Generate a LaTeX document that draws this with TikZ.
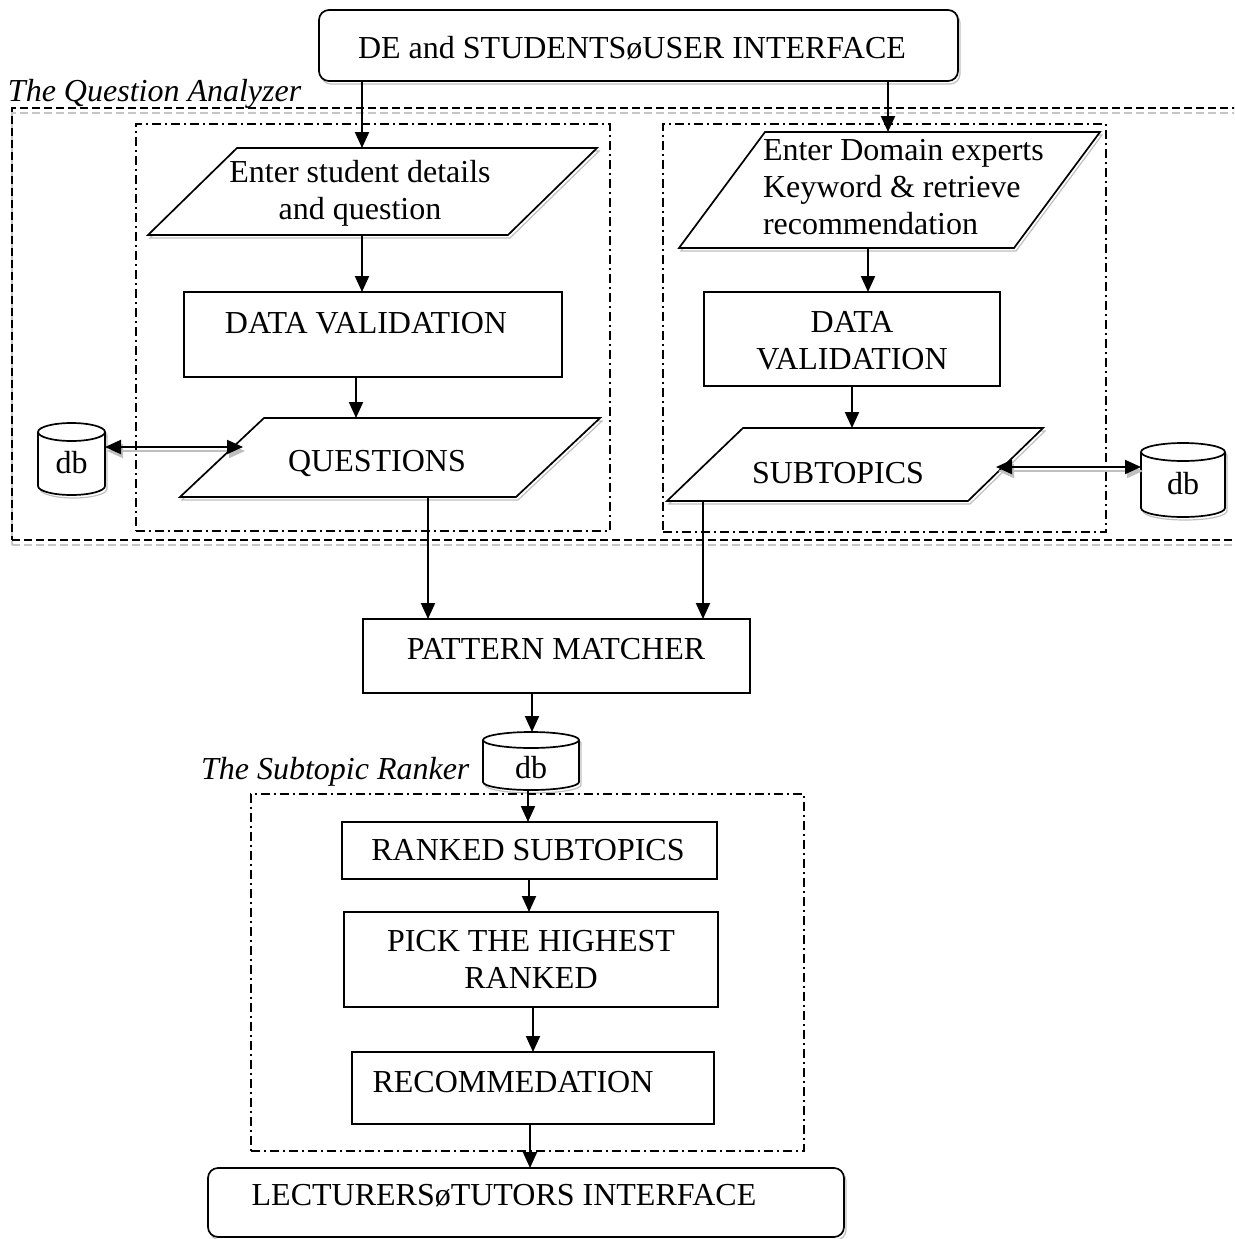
\documentclass[tikz,border=0pt]{standalone}
\usepackage{fontspec}
\setmainfont{Liberation Serif}
\usetikzlibrary{arrows.meta,calc,shadows,fit,backgrounds}

% database cylinder drawn round a named node: #1 node, #2 half height of the ellipses
\newcommand\dbshape[2]{%
  \draw[line width=1.7pt, fill=white, softshadow]
    let \p1=(#1.north west), \p2=(#1.south east), \n1={(\x2-\x1)/2} in
    (\x1,\y1-#2) -- (\x1,\y2+#2)
      arc[start angle=180, end angle=360, x radius=\n1, y radius=#2]
      -- (\x2,\y1-#2)
      arc[start angle=0, end angle=180, x radius=\n1, y radius=#2] -- cycle
    (\x1,\y1-#2) arc[start angle=180, end angle=360, x radius=\n1, y radius=#2];
}

\begin{document}
\begin{tikzpicture}[x=1pt, y=-1pt,
  every node/.style={font=\fontsize{32}{37}\selectfont, inner sep=0pt, outer sep=0pt},
  >={Triangle[length=16pt, width=14pt]},
  softshadow/.style={general shadow={shadow xshift=2pt, shadow yshift=-3pt,
      draw=gray!50, line width=1.2pt, fill=none}},
  box/.style={draw, line width=1.7pt, fill=white},
  ubox/.style={box, rounded corners=10pt, softshadow},
  parashape/.style={draw, line width=1.7pt, fill=white, line join=miter, softshadow},
  groupframe/.style={draw, line width=1.6pt, dash pattern=on 9pt off 4pt on 2pt off 4pt},
  dbnode/.style={minimum width=#1, text depth=0pt},
  arr/.style={line width=2pt, ->},
  dbl/.style={line width=2pt, <->},
  dblshadow/.style={dbl, draw=gray!50},
  txt/.style={anchor=base},
  itlabel/.style={anchor=base west, font=\fontsize{32}{37}\selectfont\itshape},
]
\path[use as bounding box] (0,0) rectangle (1234,1239);
\clip (0,0) rectangle (1234,1239);

% ---- question analyzer frame (open to the right) ----
\node[fit={(12,108) (1262,540)}, draw, line width=1.8pt, dash pattern=on 8pt off 4pt,
      general shadow={shadow xshift=0pt, shadow yshift=-5pt, draw=gray!45,
                      line width=1.2pt, dash pattern=on 8pt off 4pt, fill=none}] (qa) {};
\node[itlabel] (qalabel) at (8,101) {The Question Analyzer};

\node[groupframe, fit={(136,124) (610,531)}] (qaleft) {};
\node[groupframe, fit={(663,124) (1106,532)}] (qaright) {};
\node[groupframe, fit={(251,794) (804,1151)}] (ranker) {};
\node[itlabel] (rklabel) at (201,779) {The Subtopic Ranker};

% ---- interface ----
\node[ubox, fit={(319,10) (958,81)}] (ui) {};
\node[txt] (uit) at (632,59) {DE and STUDENTSøUSER INTERFACE};

% ---- student side ----
\coordinate (p1tl) at (237,148); \coordinate (p1tr) at (597,148);
\coordinate (p1br) at (508,235); \coordinate (p1bl) at (148,235);
\draw[parashape] (p1tl) -- (p1tr) -- (p1br) -- (p1bl) -- cycle;
\node[txt, align=center] (p1t) at (360,219) {Enter student details\\and question};

\node[box, fit={(184,292) (562,377)}] (dv1) {};
\node[txt] (dv1t) at (366,333) {DATA VALIDATION};

\coordinate (p3tl) at (264,418); \coordinate (p3tr) at (600,418);
\coordinate (p3br) at (516,497); \coordinate (p3bl) at (180,497);
\draw[parashape] (p3tl) -- (p3tr) -- (p3br) -- (p3bl) -- cycle;
\node[txt] (p3t) at (377,471) {QUESTIONS};

\node[dbnode=67pt, minimum height=72pt, text height=28pt] (db1) at (71.5,459) {db};

% ---- domain expert side ----
\coordinate (p2tl) at (765,132); \coordinate (p2tr) at (1100,132);
\coordinate (p2br) at (1014,248); \coordinate (p2bl) at (679,248);
\draw[parashape] (p2tl) -- (p2tr) -- (p2br) -- (p2bl) -- cycle;
\node[anchor=base west, align=left] (p2t) at (763,234)
  {Enter Domain experts\\Keyword \& retrieve\\recommendation};

\node[box, fit={(704,292) (1000,386)}] (dv2) {};
\node[txt, align=center] (dv2t) at (852,369) {DATA\\VALIDATION};

\coordinate (p4tl) at (743,428); \coordinate (p4tr) at (1043,428);
\coordinate (p4br) at (968,501); \coordinate (p4bl) at (667,501);
\draw[parashape] (p4tl) -- (p4tr) -- (p4br) -- (p4bl) -- cycle;
\node[txt] (p4t) at (838,483) {SUBTOPICS};

\node[dbnode=84pt, minimum height=74pt, text height=28pt] (db2) at (1183,480) {db};

% ---- matching and ranking ----
\node[box, fit={(363,619) (750,693)}] (pm) {};
\node[txt] (pmt) at (556,659) {PATTERN MATCHER};

\node[dbnode=96pt, minimum height=58pt, text height=34pt] (db3) at (531,761) {db};

\node[box, fit={(342,822) (717,879)}] (rs) {};
\node[txt] (rst) at (528,860) {RANKED SUBTOPICS};

\node[box, fit={(344,912) (718,1007)}] (pick) {};
\node[txt, align=center] (pickt) at (531,988) {PICK THE HIGHEST\\RANKED};

\node[box, fit={(352,1052) (714,1124)}] (rec) {};
\node[txt] (rect) at (513,1092) {RECOMMEDATION};

\node[ubox, fit={(208,1168) (844,1237)}] (lt) {};
\node[txt] (ltt) at (504,1205) {LECTURERSøTUTORS INTERFACE};

% ---- database cylinders behind their labels ----
\begin{scope}[on background layer]
  \dbshape{db1}{9pt}
  \dbshape{db2}{9pt}
  \dbshape{db3}{8pt}
\end{scope}

% ---- connectors ----
\draw[arr] (ui.south -| 362,0) -- (p1tl -| 362,0);
\draw[arr] (ui.south -| 888,0) -- (p2tl -| 888,0);
\draw[arr] (p1bl -| 362,0) -- (dv1.north -| 362,0);
\draw[arr] (dv1.south -| 356,0) -- (p3tl -| 356,0);
\draw[arr] (p2bl -| 868,0) -- (dv2.north -| 868,0);
\draw[arr] (dv2.south -| 852,0) -- (p4tl -| 852,0);

\coordinate (p3l) at (243,447);
\draw[dblshadow] ($(db1.east |- p3l)+(2,4)$) -- ($(p3l)+(2,4)$);
\draw[dbl] (db1.east |- p3l) -- (p3l);
\coordinate (p4r) at (996,467);
\draw[dblshadow] ($(p4r)+(2,4)$) -- ($(db2.west |- p4r)+(2,4)$);
\draw[dbl] (p4r) -- (db2.west |- p4r);

\draw[arr] (p3bl -| 428,0) -- (pm.north -| 428,0);
\draw[arr] (p4bl -| 703,0) -- (pm.north -| 703,0);
\draw[arr] (pm.south -| 532,0) -- (db3.north -| 532,0);
\draw[arr] (db3.south -| 528,0) -- (rs.north -| 528,0);
\draw[arr] (rs.south -| 529,0) -- (pick.north -| 529,0);
\draw[arr] (pick.south -| 533,0) -- (rec.north -| 533,0);
\draw[arr] (rec.south -| 530,0) -- (lt.north -| 530,0);
\end{tikzpicture}
\end{document}
